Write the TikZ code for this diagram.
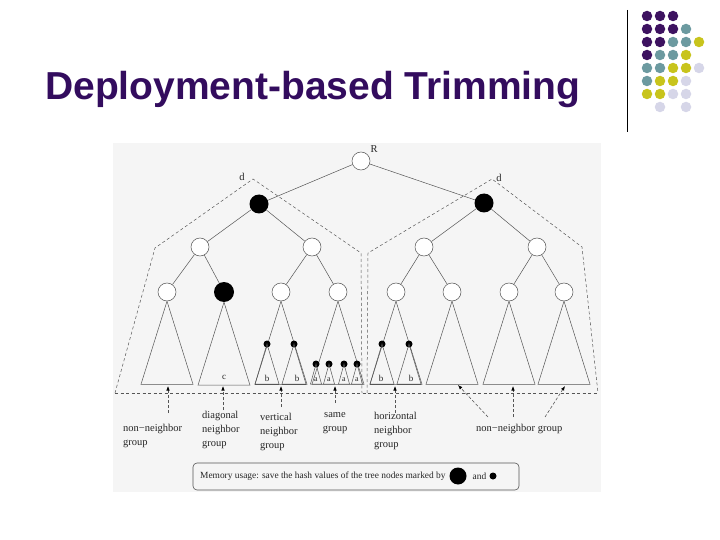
\documentclass[tikz,border=0pt]{standalone}
\usepackage{fontspec}
\setmainfont{Liberation Serif}
\newfontfamily\titlefont{Liberation Sans}
\usetikzlibrary{arrows.meta}
\definecolor{ttl}{RGB}{51,12,94}
\definecolor{dP}{RGB}{61,18,96}
\definecolor{dT}{RGB}{108,154,160}
\definecolor{dY}{RGB}{200,196,28}
\definecolor{dL}{RGB}{214,214,232}
\definecolor{bgc}{RGB}{245,245,245}
\definecolor{ln}{RGB}{85,85,85}
\begin{document}
\begin{tikzpicture}[x=1pt,y=-1pt,
 tn/.style={circle,draw=ln,fill=white,line width=0.5pt,minimum size=18pt,inner sep=0pt},
 bn/.style={circle,fill=black,minimum size=19pt,inner sep=0pt},
 sn/.style={circle,fill=black,minimum size=7pt,inner sep=0pt},
 edge/.style={draw=ln,line width=0.5pt},
 bnd/.style={draw=ln,line width=0.5pt,dash pattern=on 3pt off 2.5pt},
 arr/.style={draw=ln,line width=0.6pt,dash pattern=on 3pt off 2pt,-{Latex[length=4.5pt,width=3.5pt,black]}},
 lbl/.style={font=\fontsize{10.5}{14}\selectfont,inner sep=0pt,text=black!85},
 sml/.style={font=\fontsize{9}{10}\selectfont,inner sep=0pt,text=black!85},
 dot/.style={circle,inner sep=0pt,minimum size=10.5pt},
]
\useasboundingbox (0,0) rectangle (720,540);
\fill[white] (0,0) rectangle (720,540);
% title
\node[anchor=base west,inner sep=0pt,text=ttl,font=\titlefont\bfseries\fontsize{39}{39}\selectfont] (title) at (45,100) {Deployment-based Trimming};
% decoration
\coordinate (vl1) at (627,10); \coordinate (vl2) at (627,132);
\draw[line width=1pt] (vl1) -- (vl2);
\foreach \c/\r/\col in {1/1/dP,2/1/dP,3/1/dP,
  1/2/dP,2/2/dP,3/2/dP,4/2/dT,
  1/3/dP,2/3/dP,3/3/dT,4/3/dT,5/3/dY,
  1/4/dP,2/4/dT,3/4/dT,4/4/dY,
  1/5/dT,2/5/dT,3/5/dY,4/5/dY,5/5/dL,
  1/6/dT,2/6/dY,3/6/dY,4/6/dL,
  1/7/dY,2/7/dY,3/7/dL,4/7/dL,
  2/8/dL,4/8/dL}
  \node[dot,fill=\col] (d\c\r) at ({634+13*\c},{3+13*\r}) {};
% diagram background
\fill[bgc] (113,143) rectangle (601,492);
% boundaries
\draw[bnd] (115,393) -- (155,248) -- (253,179) -- (361,253) -- (362,393);
\draw[bnd] (367,393) -- (368,253) -- (492,179) -- (582,247) -- (598,393);
\draw[bnd] (115,393) -- (598,393);
\node[lbl] (dl) at (242,177) {d};
\node[lbl] (dr) at (499,178) {d};
% tree
\node[tn] (R) at (361,161) {};
\node[lbl] (Rl) at (374,149) {R};
\node[bn] (A) at (259,204) {};
\node[bn] (B) at (484,203) {};
\node[tn] (A1) at (200,247) {};
\node[tn] (A2) at (312,247) {};
\node[tn] (B1) at (424,247) {};
\node[tn] (B2) at (537,247) {};
\node[tn] (L1) at (167,292) {};
\node[bn,minimum size=20pt] (L2) at (224,292) {};
\node[tn] (L3) at (281,292) {};
\node[tn] (L4) at (338,292) {};
\node[tn] (L5) at (396,292) {};
\node[tn] (L6) at (452,292) {};
\node[tn] (L7) at (509,292) {};
\node[tn] (L8) at (564,292) {};
\foreach \p/\q in {R/A,R/B,A/A1,A/A2,B/B1,B/B2,A1/L1,A1/L2,A2/L3,A2/L4,B1/L5,B1/L6,B2/L7,B2/L8}
  \draw[edge] (\p) -- (\q);
\foreach \i in {1,...,8}
  \draw[edge] (L\i.south) -- ++(-26,83) -- ++(52,0) -- cycle;
% small nodes: vertical
\node[sn] (v1) at (267,344) {};
\node[sn] (v2) at (294,344) {};
\node[sn] (h1) at (382,344) {};
\node[sn] (h2) at (409,344) {};
\foreach \n in {v1,v2,h1,h2}
  \draw[edge] (\n.center) -- ++(-12,40) -- ++(24,0) -- cycle;
\foreach \n in {v1,v2,h1,h2}
  \draw[line width=0.9pt,ln] ([xshift=-12pt,yshift=-40pt]\n.center) -- ++(24,0);
\node[sn] (s1) at (316,364) {};
\node[sn] (s2) at (329,364) {};
\node[sn] (s3) at (344,364) {};
\node[sn] (s4) at (357,364) {};
\foreach \n in {s1,s2,s3,s4}
  \draw[edge] (\n.center) -- ++(-5.5,20) -- ++(11,0) -- cycle;
\node[sml] (bv1) at (267,378) {b};
\node[sml] (bv2) at (297,378) {b};
\node[sml] (bh1) at (381,378) {b};
\node[sml] (bh2) at (411,378) {b};
\node[sml] (cc) at (224,377) {c};
\foreach \n/\x in {a1/316,a2/329,a3/344,a4/357}
  \node[sml,font=\fontsize{8}{9}\selectfont] (\n) at (\x,380) {a};
% arrows
\coordinate (t1) at (168,386); \coordinate (f1) at (168,413);
\coordinate (t2) at (223,386); \coordinate (f2) at (223,410);
\coordinate (t3) at (281,386); \coordinate (f3) at (281,407);
\coordinate (t4) at (335,386); \coordinate (f4) at (335,403);
\coordinate (t5) at (395,386); \coordinate (f5) at (395,413);
\coordinate (t6) at (458,385); \coordinate (f6) at (488,417);
\coordinate (t7) at (513,386); \coordinate (f7) at (513,417);
\coordinate (t8) at (565,386); \coordinate (f8) at (545,417);
\foreach \i in {1,...,8} \draw[arr] (f\i) -- (t\i);
% labels
\node[lbl,align=left,anchor=north west] (g1) at (123,421.7) {\strut non−neighbor\\group};
\node[lbl,align=left,anchor=north west] (g2) at (202,408.7) {\strut diagonal\\neighbor\\group};
\node[lbl,align=left,anchor=north west] (g3) at (260,410.7) {\strut vertical\\neighbor\\group};
\node[lbl,align=center,anchor=north] (g4) at (335,407.7) {\strut same\\group};
\node[lbl,align=left,anchor=north west] (g5) at (374,409.7) {\strut horizontal\\neighbor\\group};
\node[lbl,align=left,anchor=north west] (g6) at (476,421.7) {\strut non−neighbor group};
% memory box
\node[draw=ln,line width=0.6pt,rounded corners=4pt,minimum width=326pt,minimum height=27pt,inner sep=0pt] (memo) at (356,476.5) {};
\node[anchor=west,inner sep=0pt,font=\fontsize{9.4}{11}\selectfont,text=black!85] (mtext) at (200,476.5) {Memory usage: save the hash values of the tree nodes marked by};
\node[bn,minimum size=17pt] (mbig) at (458,476) {};
\node[inner sep=0pt,font=\fontsize{9.4}{11}\selectfont,text=black!85] (mand) at (479.5,476.5) {and};
\node[sn] (msmall) at (493,476) {};
\end{tikzpicture}
\end{document}
